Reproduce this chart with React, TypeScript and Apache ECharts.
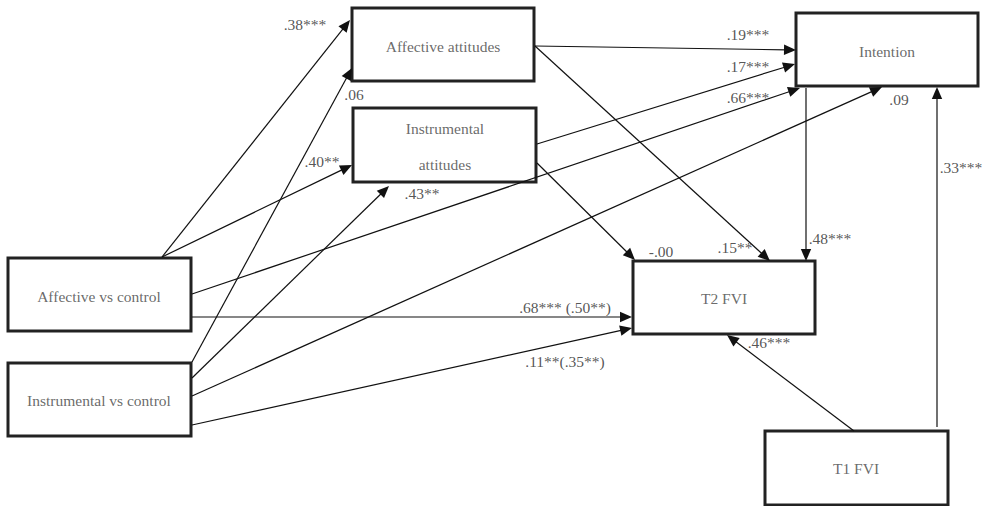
import React, { useEffect, useRef } from "react";
import * as echarts from "echarts";

// ---- Diagram content ----
const nodeNames: string[] = [
  "Affective attitudes",
  "Instrumental\nattitudes",
  "Intention",
  "Affective vs control",
  "Instrumental vs control",
  "T2 FVI",
  "T1 FVI",
];

// edges: from node index -> to node index, path coefficient
const edgeFrom: number[] = [3, 3, 4, 4, 0, 1, 3, 4, 0, 1, 2, 3, 4, 6, 6];
const edgeTo: number[] = [0, 1, 0, 1, 2, 2, 2, 2, 5, 5, 5, 5, 5, 5, 2];
const coefficients: string[] = [
  ".38***",
  ".40**",
  ".06",
  ".43**",
  ".19***",
  ".17***",
  ".66***",
  ".09",
  ".15**",
  "-.00",
  ".48***",
  ".68*** (.50**)",
  ".11**(.35**)",
  ".46***",
  ".33***",
];

// ---- Layout (diagram units on hidden axes) ----
const nodeBoxes: number[][] = [
  [352, 8, 534, 81],
  [353, 108, 536, 182],
  [796, 13, 978, 86],
  [8, 258, 191, 331],
  [8, 363, 191, 436],
  [633, 261, 815, 334],
  [765, 431, 948, 505],
];
const nodeTextPos: number[][] = [
  [443, 46],
  [445, 146],
  [887, 51],
  [99, 296],
  [99, 400],
  [724, 298],
  [856, 468],
];
const edgeStart: number[][] = [
  [162, 257],
  [162, 257],
  [192, 362],
  [192, 378],
  [535, 46],
  [537, 144],
  [192, 294],
  [192, 396],
  [535, 46],
  [537, 163],
  [806, 88],
  [192, 317],
  [192, 425],
  [854, 431],
  [937, 427],
];
const edgeEnd: number[][] = [
  [350, 20],
  [352, 165],
  [352, 68],
  [389, 186],
  [796, 50],
  [795, 64],
  [800, 88],
  [882, 87],
  [770, 261],
  [635, 260],
  [806, 261],
  [632, 317],
  [632, 328],
  [727, 335],
  [937, 87],
];
const labelPos: number[][] = [
  [305, 24],
  [322, 161],
  [354, 94],
  [422, 193],
  [748, 34],
  [748, 66],
  [748, 97],
  [899, 99],
  [735, 247],
  [661, 251],
  [830, 238],
  [565, 307],
  [565, 361],
  [769, 342],
  [961, 167],
];

const FONT_FAMILY = "Liberation Serif";
const FONT_SIZE = 15.5;

export default function App() {
  const ref = useRef<HTMLDivElement>(null);

  useEffect(() => {
    document.body.style.margin = "0";
    const chart = echarts.init(ref.current!, undefined, { renderer: "svg" });

    const option: any = {
      animation: false,
      backgroundColor: "#ffffff",
      textStyle: { fontFamily: FONT_FAMILY },
      grid: { left: 0, right: 0, top: 0, bottom: 0 },
      xAxis: { type: "value", min: 0, max: 990, show: false },
      yAxis: { type: "value", min: 0, max: 506, inverse: true, show: false },
      series: [
        {
          type: "custom",
          name: "boxes",
          coordinateSystem: "cartesian2d",
          clip: false,
          silent: true,
          z: 2,
          data: nodeBoxes.map((b) => [b[0], b[1], b[2], b[3]]),
          renderItem: (params: any, api: any) => {
            const p0 = api.coord([api.value(0), api.value(1)]);
            const p1 = api.coord([api.value(2), api.value(3)]);
            return {
              type: "rect",
              shape: { x: p0[0], y: p0[1], width: p1[0] - p0[0], height: p1[1] - p0[1] },
              style: { fill: "#ffffff", stroke: "#222222", lineWidth: 3 },
            };
          },
        },
        {
          type: "scatter",
          name: "node labels",
          symbolSize: 0,
          silent: true,
          z: 5,
          data: nodeNames.map((n, i) => ({ name: n, value: nodeTextPos[i] })),
          label: {
            show: true,
            position: "inside",
            formatter: (p: any) => p.name,
            fontFamily: FONT_FAMILY,
            fontSize: FONT_SIZE,
            color: "#444444",
            lineHeight: 36,
            align: "center",
            verticalAlign: "middle",
          },
        },
        {
          type: "custom",
          name: "paths",
          coordinateSystem: "cartesian2d",
          clip: false,
          silent: true,
          z: 3,
          data: edgeFrom.map((f, i) => [edgeStart[i][0], edgeStart[i][1], edgeEnd[i][0], edgeEnd[i][1], f, edgeTo[i]]),
          renderItem: (params: any, api: any) => {
            const s = api.coord([api.value(0), api.value(1)]);
            const e = api.coord([api.value(2), api.value(3)]);
            const dx = e[0] - s[0];
            const dy = e[1] - s[1];
            const len = Math.sqrt(dx * dx + dy * dy);
            const ux = dx / len;
            const uy = dy / len;
            const L = 12;
            const W = 5.2;
            const bx = e[0] - ux * L;
            const by = e[1] - uy * L;
            return {
              type: "group",
              children: [
                {
                  type: "line",
                  shape: { x1: s[0], y1: s[1], x2: bx + ux * 2, y2: by + uy * 2 },
                  style: { stroke: "#111111", lineWidth: 1.2 },
                },
                {
                  type: "polygon",
                  shape: {
                    points: [
                      [e[0], e[1]],
                      [bx - uy * W, by + ux * W],
                      [bx + uy * W, by - ux * W],
                    ],
                  },
                  style: { fill: "#111111" },
                },
              ],
            };
          },
        },
        {
          type: "scatter",
          name: "coefficients",
          symbolSize: 0,
          silent: true,
          z: 6,
          data: coefficients.map((c, i) => ({ name: c, value: labelPos[i] })),
          label: {
            show: true,
            position: "inside",
            formatter: (p: any) => p.name,
            fontFamily: FONT_FAMILY,
            fontSize: FONT_SIZE,
            color: "#2a2a2a",
            align: "center",
            verticalAlign: "middle",
          },
        },
      ],
    };

    chart.setOption(option);
    return () => {
      chart.dispose();
    };
  }, []);

  return (
    <div
      ref={ref}
      style={{ position: "absolute", left: 0, top: 0, width: 990, height: 506 }}
    />
  );
}
